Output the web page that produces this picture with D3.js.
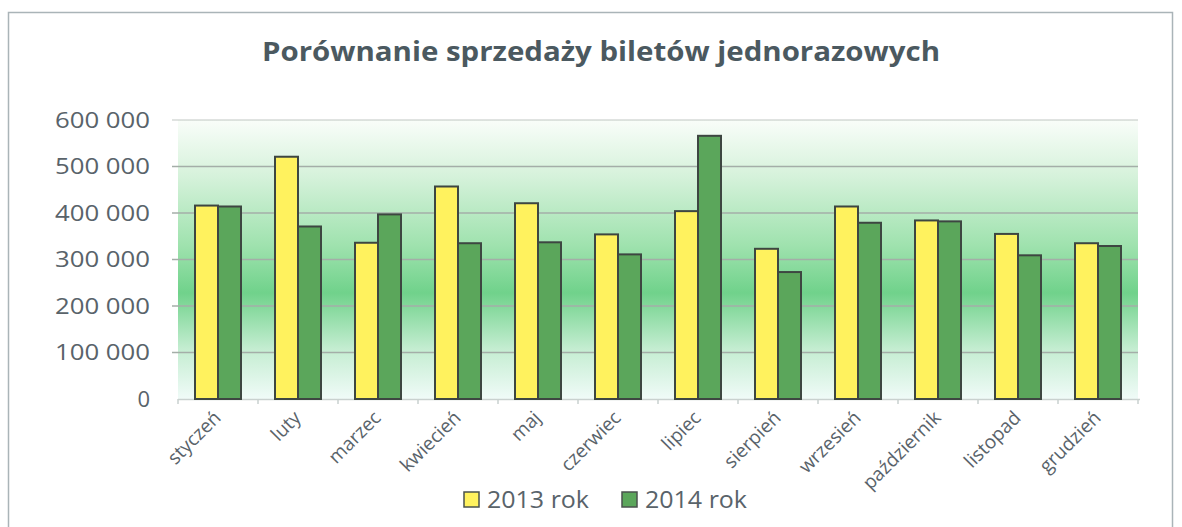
<!DOCTYPE html>
<html lang="pl">
<head>
    <meta charset="utf-8" />
    <title>Porównanie sprzedaży biletów jednorazowych</title>
    <style>
        body { margin: 0; background: #ffffff; font-family: 'Open Sans', 'Noto Sans', sans-serif; }
        text { fill: #59636a; }
        .grid line { stroke: #a4aea8; stroke-width: 1.5px; }
        rect.bar { stroke: #3d4641; stroke-width: 2px; }
    </style>
    <script src="https://d3js.org/d3.v7.min.js"></script>
</head>
<body>
    <svg id="vis" width="1182" height="527"></svg>
    <script>
        var months = ["styczeń", "luty", "marzec", "kwiecień", "maj", "czerwiec", "lipiec",
            "sierpień", "wrzesień", "październik", "listopad", "grudzień"];
        var sales2013 = [416000, 521000, 336000, 457000, 421000, 354000, 404000, 323000, 414000, 384000, 355000, 335000];
        var sales2014 = [414000, 371000, 397000, 335000, 337000, 311000, 566000, 273000, 379000, 382000, 309000, 329000];
        var seriesNames = ["2013 rok", "2014 rok"];
        var yTicks = [0, 100000, 200000, 300000, 400000, 500000, 600000];

        var colors = ["#fff25e", "#5ba65b"];
        var plot = { left: 178, right: 1138, top: 120, bottom: 399 };

        var svg = d3.select("#vis");

        var defs = svg.append("defs");
        var grad = defs.append("linearGradient").attr("id", "bg")
            .attr("x1", 0).attr("y1", 0).attr("x2", 0).attr("y2", 1);
        grad.append("stop").attr("offset", "0%").attr("stop-color", "#f9fdf9");
        grad.append("stop").attr("offset", "20%").attr("stop-color", "#d6f2db");
        grad.append("stop").attr("offset", "45%").attr("stop-color", "#9fe2ae");
        grad.append("stop").attr("offset", "62%").attr("stop-color", "#70d28b");
        grad.append("stop").attr("offset", "82%").attr("stop-color", "#c4edd1");
        grad.append("stop").attr("offset", "100%").attr("stop-color", "#f0fbf8");

        // outer chart frame
        svg.append("rect").attr("x", 8.5).attr("y", 12.5).attr("width", 1164).attr("height", 530)
            .attr("fill", "none").attr("stroke", "#aab4b8").attr("stroke-width", 1.5);

        svg.append("text").attr("x", 601).attr("y", 61)
            .attr("text-anchor", "middle").attr("font-size", 26).attr("font-weight", "bold")
            .attr("textLength", 678).attr("lengthAdjust", "spacingAndGlyphs")
            .style("fill", "#4b5960")
            .text("Porównanie sprzedaży biletów jednorazowych");

        var x = d3.scaleBand().domain(months).range([plot.left, plot.right]).paddingInner(0.425).paddingOuter(0.2125);
        var xSub = d3.scaleBand().domain([0, 1]).range([0, x.bandwidth()]);
        var y = d3.scaleLinear().domain([0, 600000]).range([plot.bottom, plot.top]);

        svg.append("rect").attr("x", plot.left).attr("y", plot.top)
            .attr("width", plot.right - plot.left).attr("height", plot.bottom - plot.top)
            .attr("fill", "url(#bg)");

        svg.append("g").attr("class", "grid").selectAll("line").data(yTicks.slice(1))
            .enter().append("line")
            .attr("x1", plot.left - 6).attr("x2", plot.right)
            .attr("y1", function (d) { return y(d); }).attr("y2", function (d) { return y(d); })
            .attr("opacity", function (d) { return d === 600000 ? 0.45 : 1; });

        // y labels
        var fmt = function (d) { return d3.format(",")(d).replace(/,/g, " "); };
        svg.append("g").selectAll("text").data(yTicks).enter().append("text")
            .attr("x", 150).attr("y", function (d) { return y(d); }).attr("dy", "0.36em")
            .attr("text-anchor", "end").attr("font-size", 22)
            .attr("textLength", function (d) { return d === 0 ? null : 95; })
            .attr("lengthAdjust", "spacingAndGlyphs")
            .text(function (d) { return d === 0 ? "0" : fmt(d); });

        // x axis
        svg.append("line").attr("x1", plot.left).attr("x2", plot.right + 2)
            .attr("y1", plot.bottom + 0.5).attr("y2", plot.bottom + 0.5)
            .attr("stroke", "#c9d1cf").attr("stroke-width", 1.5);
        var tickPos = d3.range(months.length + 1).map(function (i) { return plot.left + i * x.step(); });
        svg.append("g").selectAll("line").data(tickPos).enter().append("line")
            .attr("x1", function (d) { return d; }).attr("x2", function (d) { return d; })
            .attr("y1", plot.bottom).attr("y2", plot.bottom + 5)
            .attr("stroke", "#c9d1cf").attr("stroke-width", 1.5);

        var groups = svg.append("g").selectAll("g").data(months).enter().append("g")
            .attr("transform", function (d) { return "translate(" + x(d) + ",0)"; });
        groups.selectAll("rect").data(function (d, i) { return [sales2013[i], sales2014[i]]; })
            .enter().append("rect").attr("class", "bar")
            .attr("x", function (d, j) { return xSub(j); })
            .attr("width", xSub.bandwidth())
            .attr("y", function (d) { return y(d); })
            .attr("height", function (d) { return y(0) - y(d); })
            .attr("fill", function (d, j) { return colors[j]; });

        // rotated month labels
        svg.append("g").selectAll("text").data(months).enter().append("text")
            .attr("text-anchor", "end").attr("font-size", 19)
            .attr("transform", function (d) {
                return "translate(" + (x(d) + x.bandwidth() / 2 + 4) + "," + (plot.bottom + 20) + ") rotate(-45)";
            })
            .text(function (d) { return d; });

        // legend
        var legendX = [464, 622];
        var legend = svg.append("g").selectAll("g").data(seriesNames).enter().append("g")
            .attr("transform", function (d, i) { return "translate(" + legendX[i] + ",492)"; });
        legend.append("rect").attr("width", 15).attr("height", 15)
            .attr("fill", function (d, i) { return colors[i]; })
            .attr("stroke", "#4a524d").attr("stroke-width", 1.5);
        legend.append("text").attr("x", 23).attr("y", 8).attr("dy", "0.36em")
            .attr("font-size", 23).attr("textLength", 102).attr("lengthAdjust", "spacingAndGlyphs")
            .text(function (d) { return d; });
    </script>
</body>
</html>
